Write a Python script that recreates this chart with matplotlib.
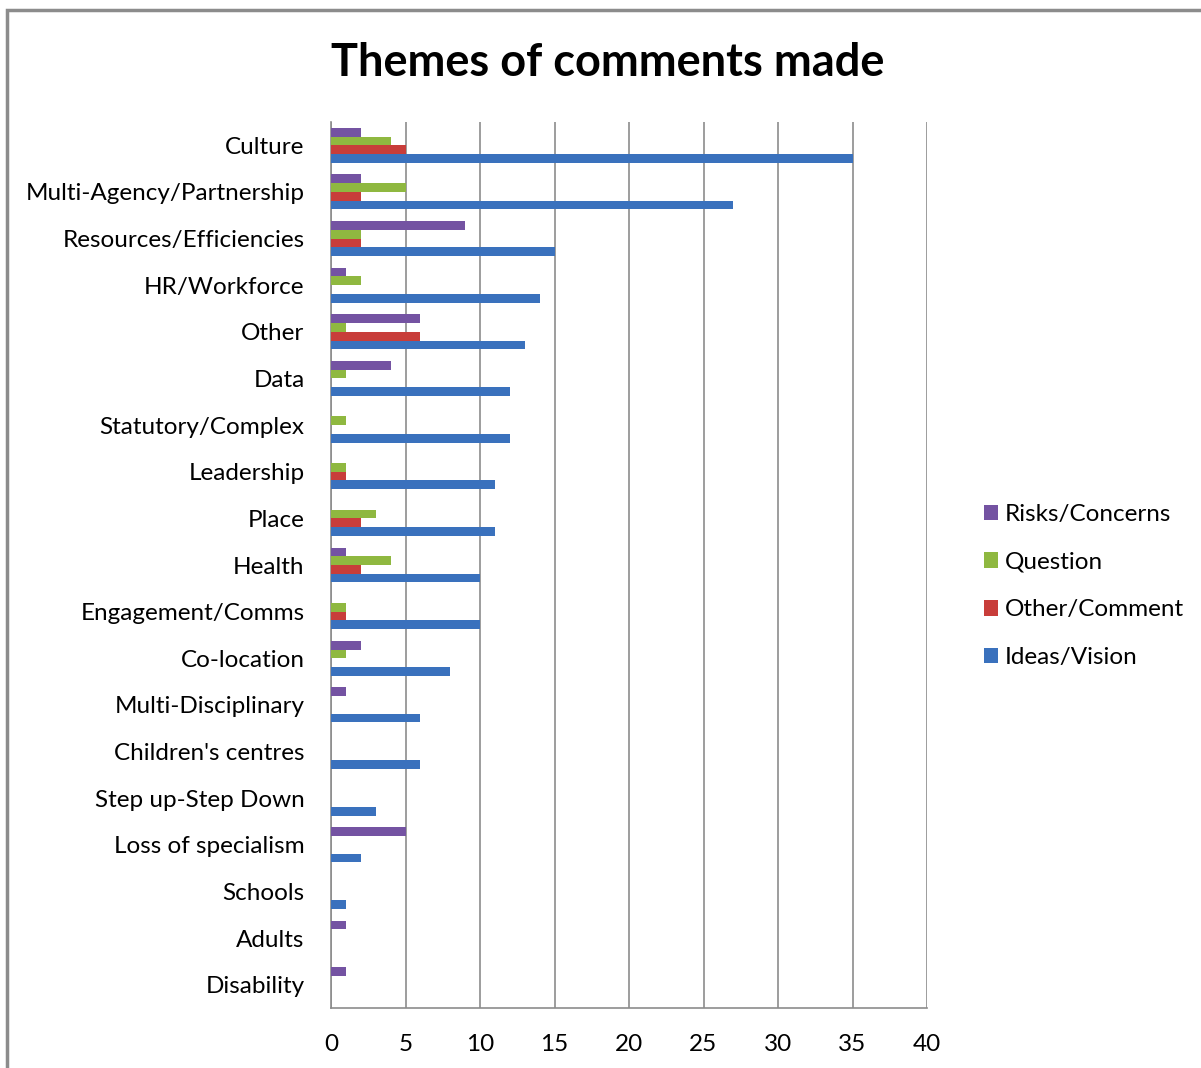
import numpy as np
import matplotlib
matplotlib.use("Agg")
import matplotlib.pyplot as plt
from matplotlib.patches import Rectangle

plt.rcParams['font.family'] = ['Lato', 'DejaVu Sans']

categories = ["Culture", "Multi-Agency/Partnership", "Resources/Efficiencies",
              "HR/Workforce", "Other", "Data", "Statutory/Complex", "Leadership",
              "Place", "Health", "Engagement/Comms", "Co-location",
              "Multi-Disciplinary", "Children's centres", "Step up-Step Down",
              "Loss of specialism", "Schools", "Adults", "Disability"]

risks = [2, 2, 9, 1, 6, 4, 0, 0, 0, 1, 0, 2, 1, 0, 0, 5, 0, 1, 1]
question = [4, 5, 2, 2, 1, 1, 1, 1, 3, 4, 1, 1, 0, 0, 0, 0, 0, 0, 0]
other = [5, 2, 2, 0, 6, 0, 0, 1, 2, 2, 1, 0, 0, 0, 0, 0, 0, 0, 0]
ideas = [35, 27, 15, 14, 13, 12, 12, 11, 11, 10, 10, 8, 6, 6, 3, 2, 1, 0, 0]

series = [("Risks/Concerns", risks, "#7453a2"),
          ("Question", question, "#8fb840"),
          ("Other/Comment", other, "#c83d3a"),
          ("Ideas/Vision", ideas, "#3a71bd")]

W, H = 1201, 1068
fig = plt.figure(figsize=(W / 100, H / 100), dpi=100)

# outer frame of the chart area
fig.patches.append(Rectangle((7 / W, -0.01), 1.05, (H - 10) / H + 0.01,
                             transform=fig.transFigure, fill=False,
                             edgecolor="#8c8c8c", linewidth=2.5))

ax = fig.add_axes([331 / W, 60 / H, 596 / W, 886 / H])

y = np.arange(len(categories))
h = 0.1875
for k, (name, vals, col) in enumerate(series):
    ax.barh(y + (k - 1.5) * h, vals, height=h, color=col, label=name,
            edgecolor="none", zorder=3)

ax.set_ylim(len(categories) - 0.5, -0.5)
ax.set_xlim(0, 40)
ax.set_xticks(np.arange(0, 41, 5))
ax.set_yticks(y)
ax.set_yticklabels(categories)
ax.tick_params(axis="both", length=0, labelsize=17.5, colors="#000000")
ax.tick_params(axis="y", pad=19)
ax.tick_params(axis="x", pad=19)
ax.grid(axis="x", color="#8c8c8c", linewidth=1.2, zorder=0)
for s in ["top", "right"]:
    ax.spines[s].set_visible(False)
for s in ["left", "bottom"]:
    ax.spines[s].set_color("#8c8c8c")
    ax.spines[s].set_linewidth(1.2)

fig.text(608 / W, 1 - 63 / H, "Themes of comments made", ha="center",
         va="center", fontsize=32.5, fontweight="bold")

ax.legend(loc="center left", bbox_to_anchor=(962 / W, 1 - 586 / H),
          bbox_transform=fig.transFigure, frameon=False, fontsize=17.5,
          handlelength=0.6, handleheight=0.6, handletextpad=0.25,
          labelspacing=1.1)

fig.savefig("out.png", dpi=100)
